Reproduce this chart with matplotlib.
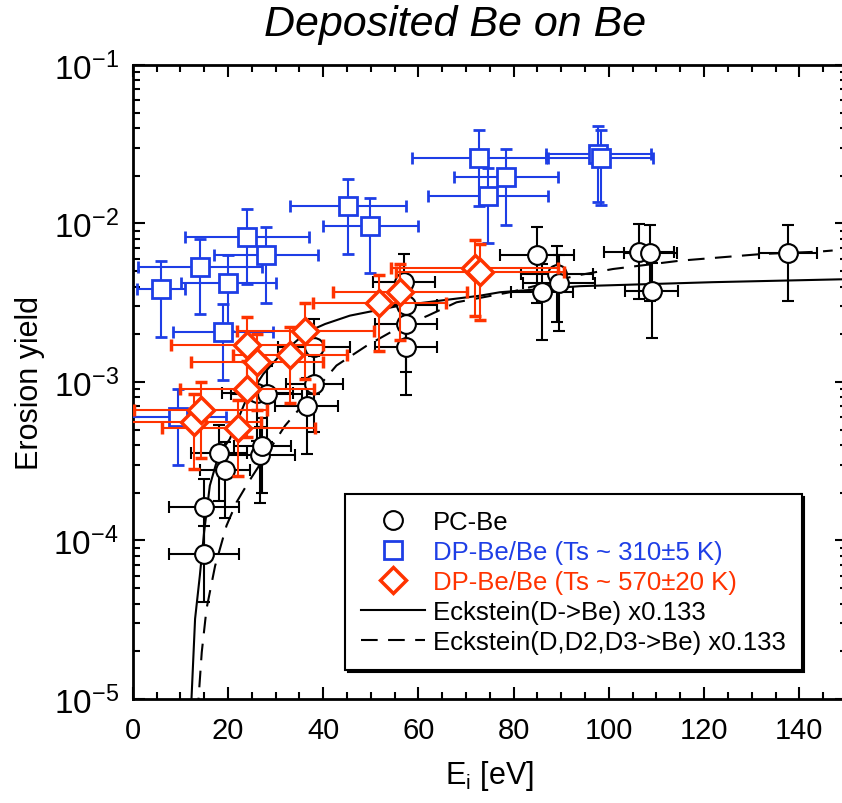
import numpy as np
import matplotlib.pyplot as plt
from matplotlib.lines import Line2D
from matplotlib.ticker import LogLocator, MultipleLocator, FuncFormatter, NullFormatter

plt.rcParams['font.family'] = ['Liberation Sans', 'DejaVu Sans']
plt.rcParams['mathtext.default'] = 'regular'

# PC-Be (black circles)
pc_E = [15.0, 15.0, 18.2, 19.4, 26.7, 27.2, 26.2, 28.1, 36.5, 38.1, 38.1,
        57.0, 57.4, 57.4, 57.4, 84.9, 89.1, 89.5, 86.0, 106.3, 108.7, 109.0, 137.6]
pc_Y = [1.62e-4, 8.2e-5, 3.56e-4, 2.79e-4, 3.46e-4, 3.96e-4, 8.5e-4, 8.4e-4,
        7.03e-4, 9.7e-4, 1.67e-3, 4.30e-3, 3.06e-3, 2.31e-3, 1.65e-3,
        6.32e-3, 4.80e-3, 4.21e-3, 3.68e-3, 6.64e-3, 6.52e-3, 3.77e-3, 6.52e-3]
pc_dE = [7.3, 7.3, 5.9, 5.3, 7.3, 6.0, 7.5, 7.5, 6.6, 6.0, 7.5,
         6.5, 6.5, 6.5, 6.5, 7.7, 7.5, 7.5, 6.5, 7.3, 5.6, 5.6, 6.1]

# DP-Be/Be, Ts ~ 310 K (blue squares)
b_E = [5.9, 9.6, 14.1, 18.9, 20.1, 24.0, 28.0, 45.2, 49.9, 72.7, 74.6, 78.4, 97.8, 98.3]
b_Y = [3.86e-3, 5.98e-4, 5.33e-3, 2.07e-3, 4.20e-3, 8.26e-3, 6.32e-3,
       1.28e-2, 9.68e-3, 2.58e-2, 1.50e-2, 1.96e-2, 2.75e-2, 2.60e-2]
b_dE = [5.0, 10.0, 13.0, 10.5, 10.0, 13.0, 11.0, 12.2, 10.0, 14.0, 12.6, 11.0, 11.0, 11.0]

# DP-Be/Be, Ts ~ 570 K (red diamonds)
r_E = [12.9, 14.3, 22.2, 24.0, 24.0, 26.1, 33.0, 36.2, 51.8, 56.1, 71.8, 72.9]
r_Y = [5.62e-4, 6.65e-4, 5.11e-4, 9.03e-4, 1.72e-3, 1.33e-3, 1.48e-3, 2.09e-3,
       3.15e-3, 3.68e-3, 5.21e-3, 4.92e-3]
r_dE = [14.0, 14.0, 16.0, 14.0, 16.0, 13.9, 12.0, 14.4, 14.0, 14.0, 17.6, 17.6]

# Eckstein curves
eck_E = [12.2, 13.1, 14.1, 15.0, 16.2, 18.0, 20.4, 23.6, 27.4, 30.9, 36.5, 40.4,
         45.6, 56.1, 72.9, 77.1, 93.9, 102.3, 121.8, 150.0]
eck_Y = [8e-6, 3.2e-5, 6.0e-5, 1.13e-4, 2.22e-4, 3.43e-4, 4.37e-4, 7.45e-4,
         1.12e-3, 1.47e-3, 2.06e-3, 2.32e-3, 2.62e-3, 3.03e-3, 3.5e-3, 3.68e-3,
         4.02e-3, 4.09e-3, 4.26e-3, 4.45e-3]
dash_E = [13.6, 14.5, 15.5, 17.3, 19.7, 21.8, 24.3, 32.0, 42.8, 49.1, 55.4, 62.0,
          68.0, 79.2, 93.2, 100.9, 114.9, 132.3, 144.2, 147.0]
dash_Y = [8e-6, 1.97e-5, 3.7e-5, 6.9e-5, 1.24e-4, 1.74e-4, 2.33e-4, 5.3e-4,
          1.27e-3, 1.69e-3, 2.16e-3, 2.62e-3, 3.18e-3, 3.68e-3, 4.69e-3, 5.16e-3,
          5.82e-3, 6.42e-3, 6.64e-3, 6.75e-3]

BLUE = '#1e3ee6'
RED = '#ff3300'

fig = plt.figure(figsize=(8.42, 8.04), dpi=100)
ax = fig.add_axes([0.1576, 0.1294, 0.8483, 0.7886])

ax.plot(eck_E, eck_Y, color='black', lw=1.5, zorder=2)
ax.plot(dash_E, dash_Y, color='black', lw=1.5, dashes=(8, 5), zorder=2)

eb = dict(elinewidth=1.5, capsize=4, capthick=1.5, linestyle='none')
ax.errorbar(pc_E, pc_Y, xerr=pc_dE, yerr=0.5 * np.array(pc_Y), fmt='o', ms=13.5,
            mfc='white', mec='black', mew=1.5, color='black', zorder=3, **eb)
ax.errorbar(b_E, b_Y, xerr=b_dE, yerr=0.5 * np.array(b_Y), fmt='s', ms=13,
            mfc='white', mec=BLUE, mew=2, color=BLUE, zorder=4, **eb)
ax.errorbar(r_E, r_Y, xerr=r_dE, yerr=0.5 * np.array(r_Y), fmt='D', ms=13,
            mfc='white', mec=RED, mew=2.5, color=RED, zorder=5, **eb)

ax.set_yscale('log')
ax.set_xlim(0, 150)
ax.set_ylim(1e-5, 1e-1)
ax.xaxis.set_major_locator(MultipleLocator(20))
ax.xaxis.set_minor_locator(MultipleLocator(5))
ax.yaxis.set_major_locator(LogLocator(base=10))
ax.yaxis.set_minor_locator(LogLocator(base=10, subs=np.arange(2, 10)))
ax.yaxis.set_minor_formatter(NullFormatter())
ax.yaxis.set_major_formatter(FuncFormatter(lambda v, p: r'$10^{%d}$' % round(np.log10(v))))

ax.tick_params(which='both', direction='in', top=True, right=True, width=1.5)
ax.tick_params(which='major', length=8.5)
ax.tick_params(axis='x', which='major', pad=12, labelsize=21)
ax.tick_params(axis='y', which='major', pad=10, labelsize=24)
ax.tick_params(which='minor', length=5)
for s in ax.spines.values():
    s.set_linewidth(2)

ax.set_ylabel('Erosion yield', fontsize=22, labelpad=6)
ax.set_xlabel(r'E$_{i}$ [eV]', fontsize=22, labelpad=10)
fig.text(455 / 842, 1 - 25 / 804, 'Deposited Be on Be', fontsize=31, style='italic',
         ha='center', va='center')

handles = [
    Line2D([], [], marker='o', ls='none', ms=13.5, mfc='white', mec='black', mew=1.5),
    Line2D([], [], marker='s', ls='none', ms=13, mfc='white', mec=BLUE, mew=2),
    Line2D([], [], marker='D', ls='none', ms=13, mfc='white', mec=RED, mew=2.5),
    Line2D([], [], color='black', lw=1.5),
    Line2D([], [], color='black', lw=1.5, dashes=(8, 5)),
]
labels = ['PC-Be', 'DP-Be/Be (Ts ~ 310±5 K)', 'DP-Be/Be (Ts ~ 570±20 K)',
          'Eckstein(D->Be) x0.133', 'Eckstein(D,D2,D3->Be) x0.133']
leg = ax.legend(handles, labels, loc='upper left', bbox_to_anchor=(345 / 842, 1 - 495 / 804),
                bbox_transform=fig.transFigure, borderaxespad=0, fontsize=18.5,
                labelcolor=['black', BLUE, RED, 'black', 'black'],
                frameon=True, fancybox=False, edgecolor='black', framealpha=1,
                shadow={'color': 'black', 'alpha': 1}, handlelength=2.5,
                handletextpad=0.3, labelspacing=0.23, borderpad=0.62)
leg.get_frame().set_linewidth(1.5)
leg.set_zorder(10)

fig.savefig('out.png', dpi=100)
